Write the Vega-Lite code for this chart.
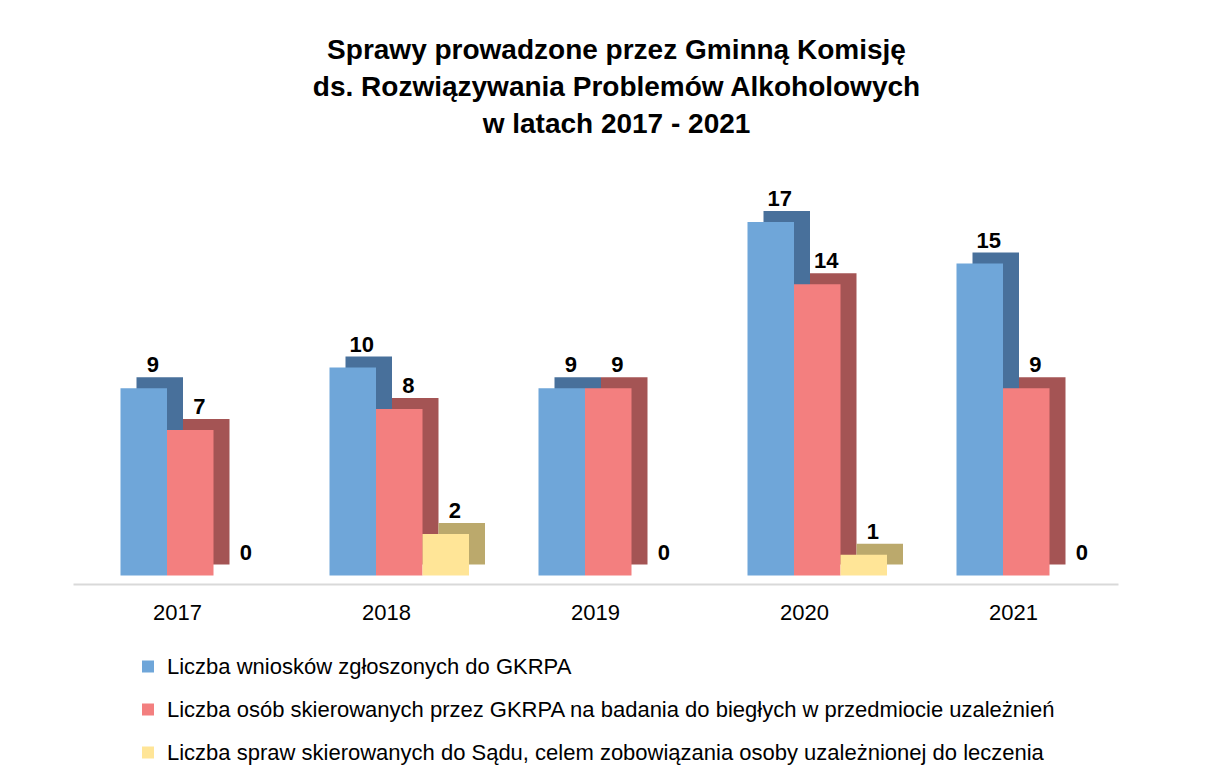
{
  "$schema": "https://vega.github.io/schema/vega-lite/v6.json",
  "autosize": "none",
  "width": 1045,
  "height": 416,
  "padding": {"left": 73, "top": 159.5, "right": 96, "bottom": 200.5},
  "background": "white",
  "config": {
    "view": {"stroke": null},
    "font": "Liberation Sans"
  },
  "title": {
    "text": ["Sprawy prowadzone przez Gminną Komisję", "ds. Rozwiązywania Problemów Alkoholowych", "w latach 2017 - 2021"],
    "fontSize": 28,
    "fontWeight": "bold",
    "font": "Liberation Sans",
    "color": "#000000",
    "lineHeight": 37,
    "anchor": "middle",
    "dx": 21,
    "offset": 21
  },
  "data": {
    "values": [
      {"rok": "2017", "seria": "Liczba wniosków zgłoszonych do GKRPA", "liczba": 9},
      {"rok": "2017", "seria": "Liczba osób skierowanych przez GKRPA na badania do biegłych w przedmiocie uzależnień", "liczba": 7},
      {"rok": "2017", "seria": "Liczba spraw skierowanych do Sądu, celem zobowiązania osoby uzależnionej do leczenia", "liczba": 0},
      {"rok": "2018", "seria": "Liczba wniosków zgłoszonych do GKRPA", "liczba": 10},
      {"rok": "2018", "seria": "Liczba osób skierowanych przez GKRPA na badania do biegłych w przedmiocie uzależnień", "liczba": 8},
      {"rok": "2018", "seria": "Liczba spraw skierowanych do Sądu, celem zobowiązania osoby uzależnionej do leczenia", "liczba": 2},
      {"rok": "2019", "seria": "Liczba wniosków zgłoszonych do GKRPA", "liczba": 9},
      {"rok": "2019", "seria": "Liczba osób skierowanych przez GKRPA na badania do biegłych w przedmiocie uzależnień", "liczba": 9},
      {"rok": "2019", "seria": "Liczba spraw skierowanych do Sądu, celem zobowiązania osoby uzależnionej do leczenia", "liczba": 0},
      {"rok": "2020", "seria": "Liczba wniosków zgłoszonych do GKRPA", "liczba": 17},
      {"rok": "2020", "seria": "Liczba osób skierowanych przez GKRPA na badania do biegłych w przedmiocie uzależnień", "liczba": 14},
      {"rok": "2020", "seria": "Liczba spraw skierowanych do Sądu, celem zobowiązania osoby uzależnionej do leczenia", "liczba": 1},
      {"rok": "2021", "seria": "Liczba wniosków zgłoszonych do GKRPA", "liczba": 15},
      {"rok": "2021", "seria": "Liczba osób skierowanych przez GKRPA na badania do biegłych w przedmiocie uzależnień", "liczba": 9},
      {"rok": "2021", "seria": "Liczba spraw skierowanych do Sądu, celem zobowiązania osoby uzależnionej do leczenia", "liczba": 0}
    ]
  },
  "encoding": {
    "x": {
      "field": "rok",
      "type": "nominal",
      "scale": {"paddingInner": 0, "paddingOuter": 0},
      "axis": {
        "title": null,
        "labelAngle": 0,
        "ticks": false,
        "domainColor": "#d9d9d9",
        "domainWidth": 2,
        "offset": 8.5,
        "labelFontSize": 22,
        "labelColor": "#000000",
        "labelFont": "Liberation Sans",
        "labelPadding": 18.5,
        "grid": false
      }
    },
    "y": {
      "field": "liczba",
      "type": "quantitative",
      "scale": {"domain": [0, 20], "nice": false, "zero": true},
      "axis": null
    }
  },
  "layer": [
    {
      "mark": {"type": "bar", "yOffset": -11, "y2Offset": -11},
      "encoding": {
        "xOffset": {
          "field": "seria",
          "type": "nominal",
          "sort": null,
          "scale": {"range": [63.5, 203], "paddingInner": 0, "paddingOuter": 0}
        },
        "color": {
          "field": "seria",
          "type": "nominal",
          "sort": null,
          "scale": {"range": ["#48709b", "#a45454", "#bba96c"]},
          "legend": null
        }
      }
    },
    {
      "mark": {"type": "bar"},
      "encoding": {
        "xOffset": {
          "field": "seria",
          "type": "nominal",
          "sort": null,
          "scale": {"range": [47.5, 187], "paddingInner": 0, "paddingOuter": 0}
        },
        "color": {
          "field": "seria",
          "type": "nominal",
          "sort": null,
          "scale": {"range": ["#6fa6d9", "#f37f7f", "#ffe597"]},
          "legend": {
            "title": null,
            "orient": "none",
            "legendX": 64,
            "legendY": 496,
            "direction": "vertical",
            "symbolType": "square",
            "symbolSize": 144,
            "symbolStrokeWidth": 0,
            "labelFontSize": 22,
            "labelFont": "Liberation Sans",
            "labelColor": "#000000",
            "labelOffset": 8,
            "labelLimit": 1100,
            "rowPadding": 21
          }
        }
      }
    },
    {
      "mark": {"type": "text", "dx": 9, "dy": -16, "baseline": "alphabetic", "fontSize": 22, "fontWeight": "bold", "font": "Liberation Sans", "color": "#000000"},
      "encoding": {
        "xOffset": {
          "field": "seria",
          "type": "nominal",
          "sort": null,
          "scale": {"range": [70.75, 163.75], "padding": 0}
        },
        "text": {"field": "liczba", "type": "quantitative"}
      }
    }
  ],
  "resolve": {"scale": {"xOffset": "independent", "color": "independent"}}
}
